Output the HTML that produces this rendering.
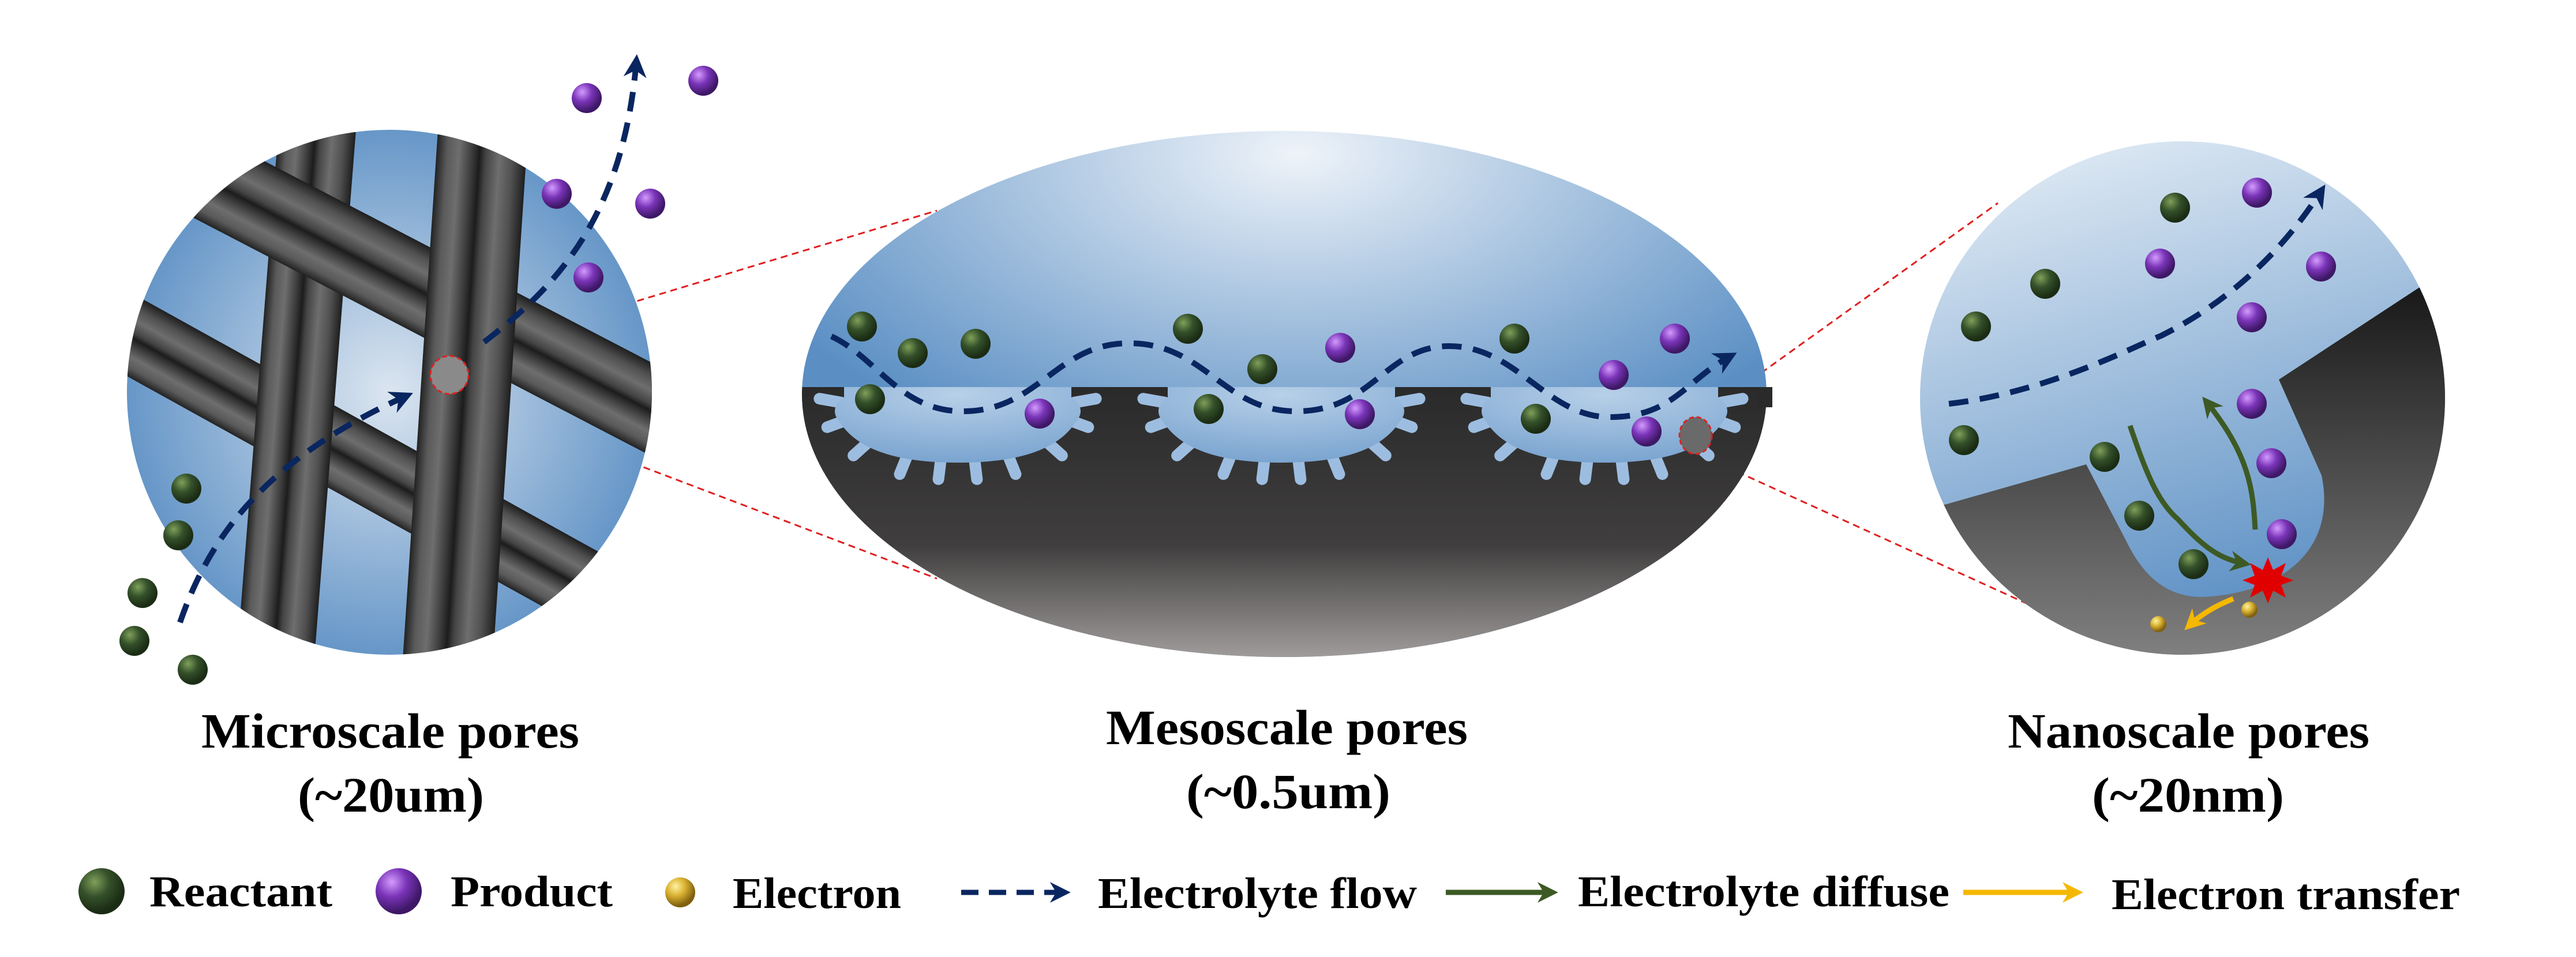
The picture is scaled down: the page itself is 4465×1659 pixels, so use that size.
<!DOCTYPE html>
<html><head><meta charset="utf-8"><style>html,body{margin:0;padding:0;background:#fff}svg{display:block}</style></head><body>
<svg width="4465" height="1659" viewBox="0 0 4465 1659" xmlns="http://www.w3.org/2000/svg">
<defs>
<radialGradient id="gB" cx="35%" cy="30%" r="65%"><stop offset="0" stop-color="#7fa05a"/><stop offset="0.5" stop-color="#34502a"/><stop offset="1" stop-color="#1b2c14"/></radialGradient>
<radialGradient id="pB" cx="35%" cy="30%" r="65%"><stop offset="0" stop-color="#d49bff"/><stop offset="0.5" stop-color="#7a34b8"/><stop offset="1" stop-color="#3e1866"/></radialGradient>
<radialGradient id="yB" cx="35%" cy="30%" r="65%"><stop offset="0" stop-color="#fff3a0"/><stop offset="0.5" stop-color="#d8b030"/><stop offset="1" stop-color="#806010"/></radialGradient>
<radialGradient id="lbg" cx="0.5" cy="0.5" r="0.55"><stop offset="0" stop-color="#dbe5f0"/><stop offset="1" stop-color="#5b8fc4"/></radialGradient>
<radialGradient id="mbg" cx="0.5" cy="0.05" r="0.6"><stop offset="0" stop-color="#eef3f9"/><stop offset="1" stop-color="#5b8fc4"/></radialGradient>
<linearGradient id="mdark" x1="0" y1="0" x2="0" y2="1"><stop offset="0" stop-color="#2a2a2a"/><stop offset="0.55" stop-color="#403e3e"/><stop offset="1" stop-color="#b0abab"/></linearGradient>
<linearGradient id="rbg" x1="0" y1="0" x2="0.3" y2="1"><stop offset="0" stop-color="#eaf1f8"/><stop offset="1" stop-color="#5b8fc4"/></linearGradient>
<linearGradient id="rdark" x1="0" y1="0" x2="0" y2="1"><stop offset="0" stop-color="#111"/><stop offset="1" stop-color="#858585"/></linearGradient>
<radialGradient id="bowl" cx="0.5" cy="0.1" r="0.9"><stop offset="0" stop-color="#b8d0e8"/><stop offset="1" stop-color="#7aa4d0"/></radialGradient>
<linearGradient id="tube" x1="0" y1="0" x2="1" y2="0">
<stop offset="0" stop-color="#222"/><stop offset="0.12" stop-color="#5a5a5a"/><stop offset="0.25" stop-color="#6e6e6e"/><stop offset="0.4" stop-color="#3a3a3a"/><stop offset="0.48" stop-color="#1c1c1c"/><stop offset="0.55" stop-color="#444"/><stop offset="0.7" stop-color="#6e6e6e"/><stop offset="0.85" stop-color="#505050"/><stop offset="1" stop-color="#1e1e1e"/></linearGradient>
<clipPath id="lc"><circle cx="675" cy="680" r="455"/></clipPath>
<clipPath id="mc"><ellipse cx="2226" cy="683" rx="836" ry="456"/></clipPath>
<clipPath id="rc"><ellipse cx="3783" cy="690" rx="455" ry="445"/></clipPath>
<g id="finger"><rect x="-10" y="-20" width="20" height="58" rx="10" fill="#9dbde0"/></g>
<g id="pore">
<use href="#finger" transform="translate(200,60) rotate(-70)"/>
<use href="#finger" transform="translate(160,100) rotate(-48)"/>
<use href="#finger" transform="translate(90,125) rotate(-22)"/>
<use href="#finger" transform="translate(30,132) rotate(-7)"/>
<use href="#finger" transform="translate(-30,132) rotate(7)"/>
<use href="#finger" transform="translate(-90,125) rotate(22)"/>
<use href="#finger" transform="translate(-160,100) rotate(48)"/>
<use href="#finger" transform="translate(-200,60) rotate(70)"/>
<use href="#finger" transform="translate(212,25) rotate(-100)"/>
<use href="#finger" transform="translate(-212,25) rotate(100)"/>
<path d="M-197,0 L-197,18 C-215,30 -218,45 -205,60 C-170,115 -90,131 0,131 C90,131 170,115 205,60 C218,45 215,30 197,18 L197,0 Z" fill="url(#bowl)"/>
</g>
<marker id="ah" viewBox="0 0 10 10" refX="7" refY="5" markerWidth="4" markerHeight="4" orient="auto"><path d="M0,0 L10,5 L0,10 L3,5 Z" fill="#0a2660"/></marker>
<marker id="ahg" viewBox="0 0 10 10" refX="7" refY="5" markerWidth="4" markerHeight="4" orient="auto"><path d="M0,0 L10,5 L0,10 L3,5 Z" fill="#3d5a25"/></marker>
<marker id="ahy" viewBox="0 0 10 10" refX="7" refY="5" markerWidth="4" markerHeight="4" orient="auto"><path d="M0,0 L10,5 L0,10 L3,5 Z" fill="#f5b800"/></marker>
</defs>

<!-- red zoom lines -->
<g stroke="#e02020" stroke-width="3" stroke-dasharray="12,8" fill="none">
<line x1="779" y1="620" x2="1624" y2="365"/>
<line x1="779" y1="682" x2="1624" y2="1003"/>
<line x1="2939" y1="728" x2="3463" y2="352"/>
<line x1="2939" y1="785" x2="3530" y2="1054"/>
</g>

<!-- LEFT CIRCLE -->
<circle cx="675" cy="680" r="455" fill="url(#lbg)"/>
<g clip-path="url(#lc)">
<rect x="-65" y="-750" width="130" height="1500" fill="url(#tube)" transform="translate(630,805) rotate(-61)"/>
<rect x="-67" y="-600" width="134" height="1200" fill="url(#tube)" transform="translate(514,680) rotate(4.5)"/>
<rect x="-72" y="-750" width="144" height="1500" fill="url(#tube)" transform="translate(788,532) rotate(-62.5)"/>
<rect x="-78" y="-600" width="156" height="1200" fill="url(#tube)" transform="translate(807,680) rotate(3.8)"/>
</g>
<circle cx="779" cy="650" r="33" fill="#8a8a8a" stroke="#e02020" stroke-width="3" stroke-dasharray="8,5"/>
<path d="M312,1079 C360,940 450,800 705,686" fill="none" stroke="#0a2660" stroke-width="10" stroke-dasharray="34,20" marker-end="url(#ah)"/>
<path d="M839,593 C960,500 1080,380 1103,106" fill="none" stroke="#0a2660" stroke-width="10" stroke-dasharray="34,20" marker-end="url(#ah)"/>
<g fill="url(#gB)"><circle cx="323" cy="847" r="26"/><circle cx="309" cy="928" r="26"/><circle cx="247" cy="1028" r="26"/><circle cx="233" cy="1111" r="26"/><circle cx="334" cy="1161" r="26"/></g>
<g fill="url(#pB)"><circle cx="1017" cy="170" r="26"/><circle cx="1219" cy="140" r="26"/><circle cx="965" cy="336" r="26"/><circle cx="1127" cy="353" r="26"/><circle cx="1020" cy="481" r="26"/></g>

<!-- MIDDLE ELLIPSE -->
<g clip-path="url(#mc)">
<rect x="1380" y="220" width="1740" height="940" fill="url(#mbg)"/>
<rect x="1380" y="671" width="1740" height="500" fill="url(#mdark)"/>
<use href="#pore" transform="translate(1660,671)"/>
<use href="#pore" transform="translate(2221,671)"/>
<use href="#pore" transform="translate(2781,671)"/>
</g>
<rect x="3045" y="671" width="27" height="35" fill="#2a2a2a"/>
<path d="M1441,583 C1520,620 1560,713 1669,713 C1800,713 1830,595 1957,595 C2090,595 2120,713 2246,713 C2380,713 2400,600 2512,600 C2630,600 2680,723 2790,723 C2900,723 2920,660 3000,617" fill="none" stroke="#0a2660" stroke-width="10" stroke-dasharray="34,20" marker-end="url(#ah)"/>
<g fill="url(#gB)"><circle cx="1494" cy="566" r="26"/><circle cx="1582" cy="612" r="26"/><circle cx="1691" cy="596" r="26"/><circle cx="1508" cy="692" r="26"/><circle cx="2059" cy="570" r="26"/><circle cx="2188" cy="640" r="26"/><circle cx="2095" cy="709" r="26"/><circle cx="2625" cy="587" r="26"/><circle cx="2662" cy="726" r="26"/></g>
<g fill="url(#pB)"><circle cx="2323" cy="603" r="26"/><circle cx="1802" cy="717" r="26"/><circle cx="2357" cy="718" r="26"/><circle cx="2903" cy="587" r="26"/><circle cx="2797" cy="650" r="26"/><circle cx="2854" cy="748" r="26"/></g>
<ellipse cx="2939" cy="755" rx="28" ry="32" fill="#6a6a6a" stroke="#e02020" stroke-width="3" stroke-dasharray="8,5"/>

<!-- RIGHT CIRCLE -->
<g clip-path="url(#rc)">
<rect x="3320" y="240" width="930" height="920" fill="url(#rbg)"/>
<path d="M3300,890 L3374,874 L3616,805 L3686,939 C3730,1030 3790,1040 3842,1033 C3960,1020 4050,950 4024,824 L3950,658 L4200,494 L4260,450 L4260,1170 L3300,1170 Z" fill="url(#rdark)"/>
</g>
<path d="M3378,700 C3550,680 3700,600 3746,582 C3870,520 3960,430 4024,330" fill="none" stroke="#0a2660" stroke-width="10" stroke-dasharray="34,20" marker-end="url(#ah)"/>
<path d="M3692,738 C3720,820 3740,870 3775,900 C3820,950 3850,970 3891,977" fill="none" stroke="#3d5a25" stroke-width="9" marker-end="url(#ahg)"/>
<path d="M3909,918 C3905,850 3900,790 3824,696" fill="none" stroke="#3d5a25" stroke-width="9" marker-end="url(#ahg)"/>
<path d="M3871,1038 C3840,1050 3815,1065 3794,1085" fill="none" stroke="#f5b800" stroke-width="9" marker-end="url(#ahy)"/>
<polygon points="3931,966 3940,988 3962,976 3954,998 3975,1006 3954,1014 3962,1036 3940,1024 3931,1046 3922,1024 3900,1036 3908,1014 3887,1006 3908,998 3900,976 3922,988" fill="#e00000"/>
<g fill="url(#gB)"><circle cx="3770" cy="360" r="26"/><circle cx="3545" cy="492" r="26"/><circle cx="3425" cy="566" r="26"/><circle cx="3404" cy="763" r="26"/><circle cx="3648" cy="792" r="26"/><circle cx="3708" cy="894" r="26"/><circle cx="3802" cy="978" r="26"/></g>
<g fill="url(#pB)"><circle cx="3912" cy="334" r="26"/><circle cx="3744" cy="457" r="26"/><circle cx="4023" cy="462" r="26"/><circle cx="3903" cy="550" r="26"/><circle cx="3903" cy="700" r="26"/><circle cx="3937" cy="803" r="26"/><circle cx="3955" cy="926" r="26"/></g>
<g fill="url(#yB)"><circle cx="3741" cy="1082" r="14"/><circle cx="3899" cy="1057" r="14"/></g>

<!-- titles -->
<g font-family="Liberation Serif, serif" font-weight="bold" font-size="86" fill="#000" text-anchor="start">
<text x="349" y="1296" textLength="655" lengthAdjust="spacingAndGlyphs">Microscale pores</text>
<text x="516" y="1407" textLength="323" lengthAdjust="spacingAndGlyphs">(~20um)</text>
<text x="1917" y="1290" textLength="627" lengthAdjust="spacingAndGlyphs">Mesoscale pores</text>
<text x="2056" y="1401" textLength="354" lengthAdjust="spacingAndGlyphs">(~0.5um)</text>
<text x="3480" y="1296" textLength="627" lengthAdjust="spacingAndGlyphs">Nanoscale pores</text>
<text x="3626" y="1407" textLength="333" lengthAdjust="spacingAndGlyphs">(~20nm)</text>
</g>

<!-- legend -->
<circle cx="176" cy="1545" r="40" fill="url(#gB)"/>
<circle cx="691" cy="1545" r="40" fill="url(#pB)"/>
<circle cx="1179" cy="1547" r="26" fill="url(#yB)"/>
<line x1="1666" y1="1547" x2="1845" y2="1547" stroke="#0a2660" stroke-width="9" stroke-dasharray="30,18" marker-end="url(#ah)"/>
<line x1="2506" y1="1547" x2="2690" y2="1547" stroke="#3d5a25" stroke-width="9" marker-end="url(#ahg)"/>
<line x1="3403" y1="1547" x2="3600" y2="1547" stroke="#f5b800" stroke-width="9" marker-end="url(#ahy)"/>
<g font-family="Liberation Serif, serif" font-weight="bold" font-size="76" fill="#000">
<text x="259" y="1571" textLength="317" lengthAdjust="spacingAndGlyphs">Reactant</text>
<text x="781" y="1571" textLength="281" lengthAdjust="spacingAndGlyphs">Product</text>
<text x="1270" y="1574" textLength="292" lengthAdjust="spacingAndGlyphs">Electron</text>
<text x="1903" y="1574" textLength="553" lengthAdjust="spacingAndGlyphs">Electrolyte flow</text>
<text x="2735" y="1571" textLength="644" lengthAdjust="spacingAndGlyphs">Electrolyte diffuse</text>
<text x="3660" y="1576" textLength="604" lengthAdjust="spacingAndGlyphs">Electron transfer</text>
</g>
</svg>
</body></html>
